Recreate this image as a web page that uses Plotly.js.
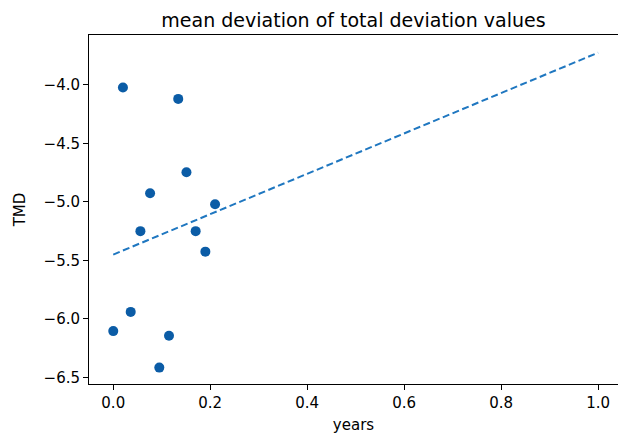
<!DOCTYPE html>
<html>
<head>
<meta charset="utf-8">
<script src="https://cdn.plot.ly/plotly-3.0.1.min.js"></script>
<style>html,body{margin:0;padding:0;background:#fff;}#chart{width:618px;height:434px;}</style>
</head>
<body>
<div id="chart"></div>
<script>
const years = [0.0, 0.020, 0.036, 0.056, 0.076, 0.095, 0.115, 0.134, 0.151, 0.170, 0.190, 0.210];
const tmd = [-6.104, -4.023, -5.94, -5.25, -4.926, -6.416, -6.144, -4.12, -4.747, -5.25, -5.425, -5.02];
const fitX = [0, 1];
const fitY = [-5.45, -3.725];
const xTicks = [0.0, 0.2, 0.4, 0.6, 0.8, 1.0];
const xTickText = ['0.0', '0.2', '0.4', '0.6', '0.8', '1.0'];
const yTicks = [-6.5, -6.0, -5.5, -5.0, -4.5, -4.0];
const yTickText = ['\u22126.5', '\u22126.0', '\u22125.5', '\u22125.0', '\u22124.5', '\u22124.0'];

const FONT = 'DejaVu Sans, sans-serif';
const traces = [
  {x: years, y: tmd, type: 'scatter', mode: 'markers',
   marker: {color: '#0b5ca6', size: 10}, hoverinfo: 'skip'},
  {x: fitX, y: fitY, type: 'scatter', mode: 'lines',
   line: {color: '#1f77c0', width: 2, dash: '7px,3.5px'}, hoverinfo: 'skip'}
];
const layout = {
  width: 618, height: 434,
  margin: {l: 89, r: 0, t: 35, b: 50},
  paper_bgcolor: '#fff', plot_bgcolor: '#fff',
  showlegend: false,
  font: {family: FONT, color: '#000', size: 15},
  title: {text: 'mean deviation of total deviation values', font: {family: FONT, size: 19, color: '#000'},
          x: 0.5, xref: 'paper', y: 1, yref: 'paper', yanchor: 'bottom', pad: {b: 8}},
  xaxis: {range: [-0.05, 1.041], tickvals: xTicks, ticktext: xTickText,
          showgrid: false, zeroline: false, showline: true, linecolor: '#000', linewidth: 1,
          mirror: true, ticks: 'outside', ticklen: 5, tickcolor: '#000',
          tickfont: {family: FONT, size: 15, color: '#000'},
          title: {text: 'years', font: {family: FONT, size: 15, color: '#000'}, standoff: 9}},
  yaxis: {range: [-6.556, -3.574], tickvals: yTicks, ticktext: yTickText,
          showgrid: false, zeroline: false, showline: true, linecolor: '#000', linewidth: 1,
          ticks: 'outside', ticklen: 5, tickcolor: '#000',
          tickfont: {family: FONT, size: 15, color: '#000'},
          title: {text: 'TMD', font: {family: FONT, size: 15, color: '#000'}, standoff: 14}}
};
Plotly.newPlot('chart', traces, layout, {staticPlot: true, displayModeBar: false});
</script>
</body>
</html>
